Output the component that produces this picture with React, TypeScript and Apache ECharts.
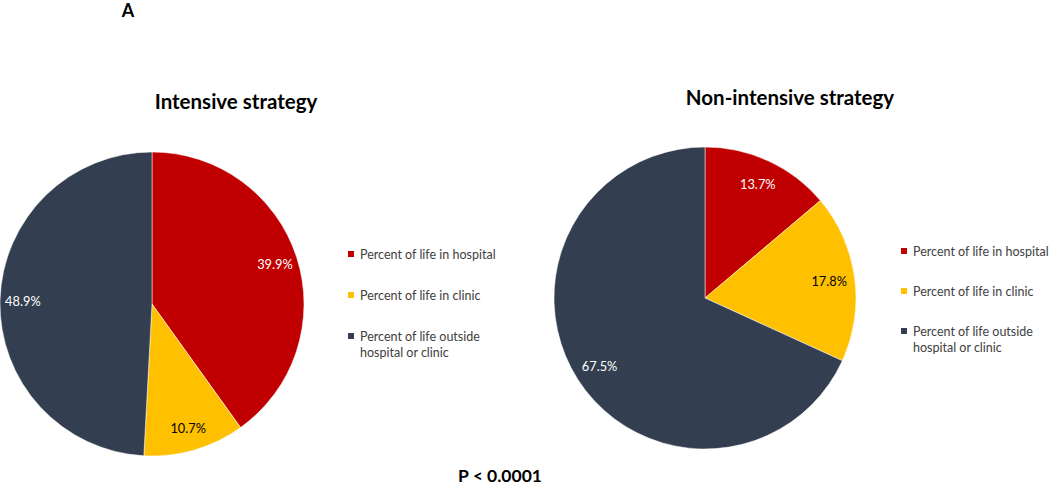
import React, { useEffect, useRef } from "react";
import * as echarts from "echarts";

const categories = [
  "Percent of life in hospital",
  "Percent of life in clinic",
  "Percent of life outside hospital or clinic",
];
const intensiveValues = [39.9, 10.7, 48.9];
const nonIntensiveValues = [13.7, 17.8, 67.5];
const sliceColors = ["#C00000", "#FFC000", "#333F50"];
const labelColors = ["#ffffff", "#000000", "#ffffff"];
const titles = ["Intensive strategy", "Non-intensive strategy"];
const panelLabel = "A";
const pValueText = "P < 0.0001";

const FONT = "Lato, 'Noto Sans', sans-serif";

function mainData(values: number[]) {
  return values.map((v, i) => ({
    name: categories[i],
    value: v,
    itemStyle: { color: sliceColors[i] },
  }));
}

function labelData(values: number[]) {
  return values.map((v, i) => ({
    name: categories[i],
    value: v,
    itemStyle: { color: "rgba(0,0,0,0)" },
    label: { color: labelColors[i] },
  }));
}

// leading blank line keeps the marker level with the first text line
function legendFormatter(name: string) {
  return name === categories[2] ? " \nPercent of life outside\nhospital or clinic" : name;
}

function makeLegends(left: number, top1: number, gap: number, top2: number) {
  const textStyle = {
    fontFamily: FONT,
    fontSize: 12.5,
    color: "#404040",
    lineHeight: 16,
  };
  return [
    {
      orient: "vertical",
      left,
      top: top1,
      padding: 0,
      itemWidth: 8,
      itemHeight: 8,
      itemGap: gap,
      icon: "rect",
      selectedMode: false,
      data: [categories[0], categories[1]],
      textStyle,
    },
    {
      orient: "vertical",
      left,
      top: top2,
      padding: 0,
      itemWidth: 8,
      itemHeight: 8,
      icon: "rect",
      selectedMode: false,
      data: [categories[2]],
      formatter: legendFormatter,
      textStyle,
    },
  ];
}

export default function App() {
  const ref = useRef<HTMLDivElement>(null);

  useEffect(() => {
    if (!ref.current) return;
    const chart = echarts.init(ref.current, null, { renderer: "svg" });
    const leftCenter = [152, 304];
    const rightCenter = [705, 298];
    const leftR = 152;
    const rightR = 151;
    const labelFmt = (p: any) => p.value.toFixed(1) + "%";
    chart.setOption({
      animation: false,
      backgroundColor: "#ffffff",
      legend: [
        ...makeLegends(346, 246, 25, 312),
        ...makeLegends(899, 243, 24, 307),
      ],
      series: [
        {
          type: "pie",
          center: leftCenter,
          radius: [0, leftR],
          startAngle: 90,
          clockwise: true,
          label: { show: false },
          labelLine: { show: false },
          emphasis: { disabled: true },
          itemStyle: { borderColor: "#ffffff", borderWidth: 0.5 },
          data: mainData(intensiveValues),
        },
        {
          type: "pie",
          center: rightCenter,
          radius: [0, rightR],
          startAngle: 90,
          clockwise: true,
          label: { show: false },
          labelLine: { show: false },
          emphasis: { disabled: true },
          itemStyle: { borderColor: "#ffffff", borderWidth: 0.5 },
          data: mainData(nonIntensiveValues),
        },
        {
          type: "pie",
          silent: true,
          center: leftCenter,
          radius: [leftR * 0.66, leftR],
          startAngle: 90,
          clockwise: true,
          label: {
            show: true,
            position: "inside",
            fontFamily: FONT,
            fontSize: 12.8,
            formatter: labelFmt,
          },
          labelLine: { show: false },
          emphasis: { disabled: true },
          data: labelData(intensiveValues),
        },
        {
          type: "pie",
          silent: true,
          center: rightCenter,
          radius: [rightR * 0.62, rightR],
          startAngle: 90,
          clockwise: true,
          label: {
            show: true,
            position: "inside",
            fontFamily: FONT,
            fontSize: 12.8,
            formatter: labelFmt,
          },
          labelLine: { show: false },
          emphasis: { disabled: true },
          data: labelData(nonIntensiveValues),
        },
      ],
      graphic: [
        {
          type: "text",
          x: 128,
          y: 10,
          style: {
            text: panelLabel,
            font: `bold 18px ${FONT}`,
            fill: "#000",
            textAlign: "center",
            textVerticalAlign: "middle",
          },
        },
        {
          type: "text",
          x: 236,
          y: 101,
          style: {
            text: titles[0],
            font: `bold 20.5px ${FONT}`,
            fill: "#000",
            textAlign: "center",
            textVerticalAlign: "middle",
          },
        },
        {
          type: "text",
          x: 790,
          y: 97,
          style: {
            text: titles[1],
            font: `bold 20.5px ${FONT}`,
            fill: "#000",
            textAlign: "center",
            textVerticalAlign: "middle",
          },
        },
        {
          type: "text",
          x: 500,
          y: 475,
          style: {
            text: pValueText,
            font: `bold 17.5px ${FONT}`,
            fill: "#000",
            textAlign: "center",
            textVerticalAlign: "middle",
          },
        },
      ],
    });
    return () => chart.dispose();
  }, []);

  return (
    <div
      ref={ref}
      style={{ position: "fixed", left: 0, top: 0, width: 1050, height: 485 }}
    />
  );
}
